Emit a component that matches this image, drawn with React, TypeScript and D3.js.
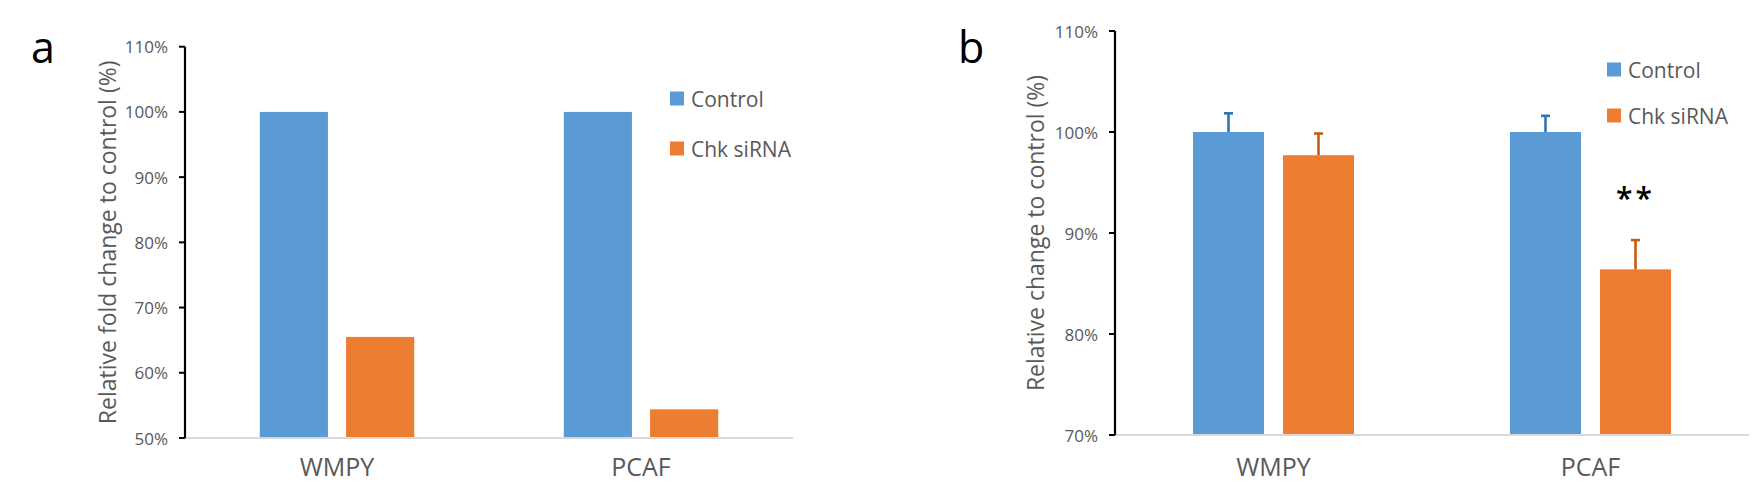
import { useEffect } from 'react';
import * as d3 from 'd3';

const categories = ['WMPY', 'PCAF'];
const series = ['Control', 'Chk siRNA'];

// panel a
const foldChange = [
  [100, 65.5],
  [100, 54.4],
];
const ticksA = [50, 60, 70, 80, 90, 100, 110];

// panel b
const relChange = [
  [100, 97.7],
  [100, 86.4],
];
const relError = [
  [1.85, 2.15],
  [1.6, 2.9],
];
const ticksB = [70, 80, 90, 100, 110];
const signif = ['', '**'];

const fill = ['#5B9BD5', '#ED7D31'];
const errColor = ['#2E75B6', '#C55A11'];
const grey = '#595959';
const font = '"Open Sans", sans-serif';

type PanelProps = {
  letter: string;
  letterX: number;
  title: string;
  titleX: number;
  left: number;
  right: number;
  top: number;
  bottom: number;
  domain: [number, number];
  ticks: number[];
  values: number[][];
  errors?: number[][];
  legendX: number;
  legendY: number;
  legendGap: number;
  barGap: number;
};

function Panel(p: PanelProps) {
  const x0 = d3.scaleBand<string>()
    .domain(categories)
    .range([p.left, p.right])
    .paddingInner(0.492)
    .paddingOuter(0.246);
  const x1 = d3.scaleBand<string>()
    .domain(series)
    .range([0, x0.bandwidth()])
    .paddingInner(p.barGap);
  const y = d3.scaleLinear().domain(p.domain).range([p.bottom, p.top]);
  const titleY = (p.top + p.bottom) / 2;

  return (
    <g fontFamily={font}>
      <text x={p.letterX} y={63} fontSize={43} fill="#000">{p.letter}</text>
      <text
        transform={`translate(${p.titleX},${titleY}) rotate(-90)`}
        textAnchor="middle"
        dominantBaseline="central"
        fontSize={23}
        fill={grey}
      >{p.title}</text>

      {/* bars */}
      {categories.map((c, ci) => (
        <g key={c}>
          {series.map((s, si) => {
            const v = p.values[ci][si];
            const bx = x0(c)! + x1(s)!;
            const cx = bx + x1.bandwidth() / 2;
            const e = p.errors ? p.errors[ci][si] : 0;
            return (
              <g key={s}>
                <rect x={bx} y={y(v)} width={x1.bandwidth()} height={y(p.domain[0]) - y(v)} fill={fill[si]} />
                {p.errors && (
                  <g stroke={errColor[si]} strokeWidth={2.6}>
                    <line x1={cx} x2={cx} y1={y(v)} y2={y(v + e)} />
                    <line x1={cx - 4.5} x2={cx + 4.5} y1={y(v + e)} y2={y(v + e)} />
                  </g>
                )}
              </g>
            );
          })}
        </g>
      ))}

      {/* x baseline */}
      <line x1={p.left} x2={p.right} y1={y(p.domain[0])} y2={y(p.domain[0])} stroke="#D9D9D9" strokeWidth={2} />

      {/* y axis */}
      <line x1={p.left} x2={p.left} y1={y(p.domain[1])} y2={y(p.domain[0])} stroke="#000" strokeWidth={2.2} />
      {p.ticks.map(t => (
        <g key={t}>
          <line x1={p.left - 6} x2={p.left} y1={y(t)} y2={y(t)} stroke="#000" strokeWidth={2} />
          <text x={p.left - 17} y={y(t)} textAnchor="end" dominantBaseline="central" fontSize={17} fill={grey}>{t}%</text>
        </g>
      ))}

      {/* category labels */}
      {categories.map(c => (
        <text key={c} x={x0(c)! + x0.bandwidth() / 2} y={476} textAnchor="middle" fontSize={25} fill={grey}>{c}</text>
      ))}

      {/* legend */}
      {series.map((s, si) => (
        <g key={s} transform={`translate(${p.legendX},${p.legendY + si * p.legendGap})`}>
          <rect x={0} y={-7} width={14} height={14} fill={fill[si]} />
          <text x={21} y={0} dominantBaseline="central" fontSize={21} fill={grey}>{s}</text>
        </g>
      ))}
    </g>
  );
}

export default function App() {
  useEffect(() => {
    document.body.style.margin = '0';
  }, []);

  const yB = d3.scaleLinear().domain([70, 110]).range([435, 31]);
  const x0B = d3.scaleBand<string>().domain(categories).range([1115, 1749]).paddingInner(0.492).paddingOuter(0.246);
  const x1B = d3.scaleBand<string>().domain(series).range([0, x0B.bandwidth()]).paddingInner(0.211);

  return (
    <svg width={1761} height={487} style={{ display: 'block', background: '#fff' }}>
      <Panel
        letter="a"
        letterX={31}
        title="Relative fold change to control (%)"
        titleX={107}
        left={185}
        right={793}
        top={46.7}
        bottom={438}
        domain={[50, 110]}
        ticks={ticksA}
        values={foldChange}
        legendX={670}
        legendY={98.5}
        legendGap={50}
        barGap={0.21}
      />
      <Panel
        letter="b"
        letterX={958}
        title="Relative change to control (%)"
        titleX={1035}
        left={1115}
        right={1749}
        top={31}
        bottom={435}
        domain={[70, 110]}
        ticks={ticksB}
        values={relChange}
        errors={relError}
        legendX={1607}
        legendY={69.5}
        legendGap={46}
        barGap={0.211}
      />
      {categories.map((c, ci) => signif[ci] && (
        <text
          key={c}
          x={x0B(c)! + x1B('Chk siRNA')! + x1B.bandwidth() / 2}
          y={yB(relChange[ci][1] + relError[ci][1]) - 31}
          textAnchor="middle"
          fontFamily={font}
          fontSize={30}
          fontWeight={600}
          letterSpacing={3}
          fill="#000"
        >{signif[ci]}</text>
      ))}
    </svg>
  );
}
